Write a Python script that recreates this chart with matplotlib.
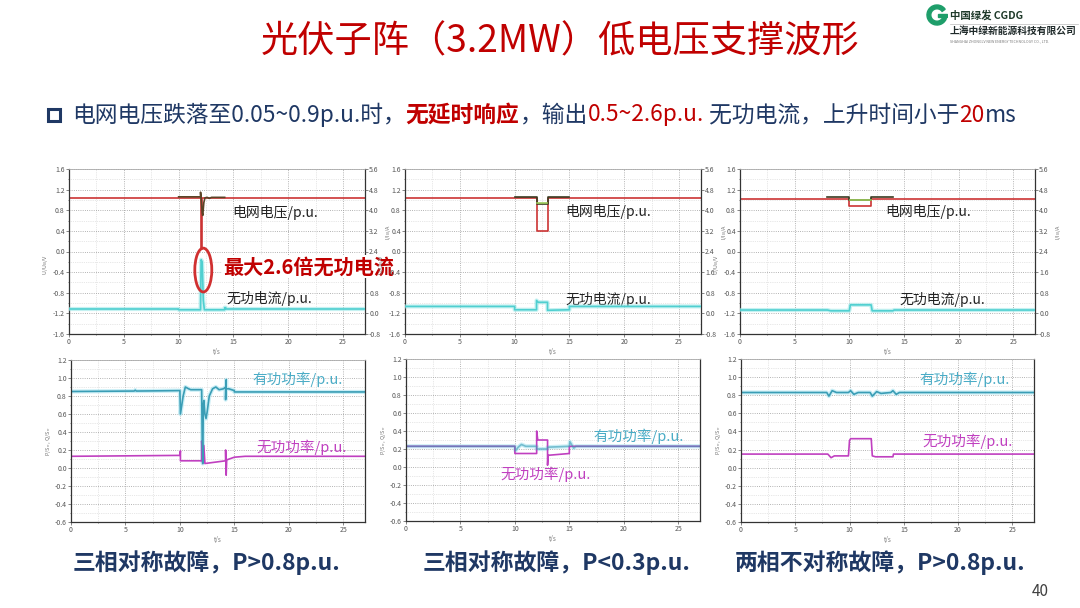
import matplotlib
matplotlib.use("Agg")
import matplotlib.pyplot as plt
from matplotlib.patches import Ellipse, Rectangle, Wedge
from matplotlib.ticker import MultipleLocator, FormatStrFormatter

plt.rcParams["font.family"] = ["Noto Sans CJK SC", "DejaVu Sans"]

W, H = 1080, 608

# ---- panel A: three-phase symmetric fault, P>0.8 ----
a_u_t = [0, 12.05, 12.05, 12.15, 12.15, 27]
a_u = [1.03, 1.03, 0.05, 0.05, 1.03, 1.03]
a_u2_t = [10.0, 12.0, 12.0, 12.1, 12.15, 12.2, 12.3, 12.4, 12.6, 12.8, 13.0, 14.2]
a_u2 = [1.06, 1.06, 1.15, 0.9, 0.75, 0.7, 0.95, 1.04, 1.05, 1.03, 1.05, 1.05]
a_i_t = [0, 10.0, 10.0, 12.0, 12.05, 12.15, 12.25, 12.35, 14.2, 14.2, 14.3, 14.3, 27]
a_i = [0.17, 0.17, 0.14, 0.14, 2.08, 2.0, 0.5, 0.14, 0.14, 0.22, 0.22, 0.17, 0.17]
a_p_t = [0, 5.8, 5.9, 6.0, 10.0, 10.05, 10.3, 10.5, 10.8, 11.0, 12.0, 12.05, 12.1,
         12.15, 12.2, 12.3, 12.4, 12.5, 12.7, 13.0, 13.3, 13.6, 14.0, 14.2, 14.2,
         14.25, 14.25, 14.5, 15.0, 15.0, 27]
a_p = [0.85, 0.855, 0.865, 0.855, 0.86, 0.60, 0.80, 0.90, 0.88, 0.87, 0.87, 0.30, 0.05,
       0.70, 0.75, 0.60, 0.55, 0.62, 0.80, 0.88, 0.90, 0.87, 0.88, 0.90, 0.76,
       0.98, 0.88, 0.88, 0.86, 0.845, 0.845]
a_q_t = [0, 10.0, 10.05, 10.05, 12.0, 12.0, 12.1, 12.2, 12.3, 14.2, 14.2, 14.25, 14.3,
         15.0, 16.0, 27]
a_q = [0.13, 0.14, 0.19, 0.08, 0.08, 0.30, 0.05, 0.25, 0.05, 0.08, 0.20, -0.08, 0.09,
       0.12, 0.13, 0.13]

# ---- panel B: three-phase symmetric fault, P<0.3 ----
b_u_t = [0, 12.0, 12.0, 13.0, 13.0, 27]
b_u = [1.03, 1.03, 0.40, 0.40, 1.03, 1.03]
b_u2_t = [10.0, 12.0, 12.0, 13.0, 13.0, 15.0]
b_u2 = [1.05, 1.05, 0.93, 0.93, 1.05, 1.05]
b_u3_t = [12.05, 12.95]
b_u3 = [0.94, 0.94]
b_i_t = [0, 10.0, 10.0, 12.0, 12.0, 12.15, 12.3, 13.0, 13.0, 15.0, 15.0, 27]
b_i = [0.27, 0.27, 0.14, 0.14, 0.50, 0.43, 0.43, 0.43, 0.12, 0.14, 0.27, 0.27]
b_p_t = [0, 10.0, 10.05, 10.3, 10.6, 11.0, 12.0, 12.0, 13.0, 13.0, 15.0, 15.05, 15.2,
         15.4, 15.6, 27]
b_p = [0.23, 0.23, 0.18, 0.22, 0.25, 0.23, 0.23, 0.20, 0.20, 0.22, 0.23, 0.28, 0.25,
       0.21, 0.23, 0.23]
b_q_t = [0, 10.0, 10.0, 12.0, 12.0, 12.1, 13.0, 13.0, 13.05, 15.0, 15.0, 27]
b_q = [0.23, 0.23, 0.15, 0.15, 0.40, 0.30, 0.30, 0.02, 0.13, 0.15, 0.23, 0.23]

# ---- panel C: two-phase asymmetric fault, P>0.8 ----
c_u_t = [0, 10.0, 10.0, 12.0, 12.0, 27]
c_u = [1.02, 1.02, 0.88, 0.88, 1.02, 1.02]
c_u2_t = [8.0, 10.0, 10.0, 12.0, 12.0, 14.0]
c_u2 = [1.05, 1.05, 0.99, 0.99, 1.05, 1.05]
c_u3_t = [10.05, 11.95]
c_u3 = [0.99, 0.99]
c_i_t = [0, 8.0, 8.3, 9.8, 10.0, 10.1, 12.0, 12.1, 12.5, 14.0, 14.1, 27]
c_i = [0.13, 0.13, 0.10, 0.10, 0.10, 0.33, 0.33, 0.10, 0.10, 0.10, 0.13, 0.13]
c_p_t = [0, 7.9, 8.1, 8.4, 8.8, 9.9, 10.1, 10.4, 10.8, 11.9, 12.1, 12.5, 12.9, 13.8,
         14.0, 14.3, 14.6, 15.0, 27]
c_p = [0.83, 0.83, 0.79, 0.85, 0.83, 0.83, 0.85, 0.81, 0.83, 0.83, 0.79, 0.84, 0.82,
       0.83, 0.85, 0.81, 0.83, 0.83, 0.83]
c_q_t = [0, 8.0, 8.3, 8.6, 9.9, 10.0, 10.1, 12.0, 12.1, 12.4, 14.0, 14.05, 27]
c_q = [0.15, 0.15, 0.11, 0.13, 0.13, 0.30, 0.32, 0.32, 0.13, 0.12, 0.12, 0.15, 0.15]

# peak marker on panel A (right-axis units)
peak_t = 12.25
peak_i = 1.68

captions = ["三相对称故障，P>0.8p.u.", "三相对称故障，P<0.3p.u.", "两相不对称故障，P>0.8p.u."]
caption_x = [206, 557, 880]

RED = "#C00000"
NAVY = "#1F3864"


def box(x0, y0, x1, y1):
    return [x0 / W, 1 - y1 / H, (x1 - x0) / W, (y1 - y0) / H]


def style_axes(ax, ymin, ymax, ystep, yminor):
    ax.set_xlim(0, 27)
    ax.set_ylim(ymin, ymax)
    ax.xaxis.set_major_locator(MultipleLocator(5))
    ax.xaxis.set_minor_locator(MultipleLocator(2.5))
    ax.yaxis.set_major_locator(MultipleLocator(ystep))
    ax.yaxis.set_minor_locator(MultipleLocator(yminor))
    ax.yaxis.set_major_formatter(FormatStrFormatter("%.1f"))
    ax.grid(which="major", ls=":", color="#9a9a9a", lw=0.6)
    ax.grid(which="minor", ls=":", color="#d0d0d0", lw=0.5)
    ax.tick_params(which="both", labelsize=5, colors="#555555", length=2, width=0.5, pad=1)
    ax.tick_params(which="minor", length=1)
    for side in ("left", "bottom", "right"):
        ax.spines[side].set_color("#333333")
        ax.spines[side].set_linewidth(0.9)
    ax.spines["top"].set_color("#aaaaaa")
    ax.spines["top"].set_linewidth(0.6)
    ax.set_xlabel("t/s", fontsize=4.5, color="#777777", labelpad=1)


def voltage_panel(rect, u_series, i_t, i_v, u_label_xy, i_label_xy):
    ax = fig.add_axes(box(*rect))
    style_axes(ax, -1.6, 1.6, 0.4, 0.2)
    ax.set_ylabel("U/U$_N$/V", fontsize=4, color="#777777")
    ax.yaxis.set_label_coords(-0.065, 0.42)
    for t, v, c in u_series:
        ax.plot(t, v, color=c, lw=1.2)
    ax2 = ax.twinx()
    ax2.set_ylim(-0.8, 5.6)
    ax2.yaxis.set_major_locator(MultipleLocator(0.8))
    ax2.yaxis.set_major_formatter(FormatStrFormatter("%.1f"))
    ax2.tick_params(labelsize=5, colors="#555555", length=2, width=0.5, pad=1)
    ax2.set_ylabel("I/I$_N$/A", fontsize=4, color="#777777")
    ax2.yaxis.set_label_coords(1.065, 0.62)
    for s in ax2.spines.values():
        s.set_visible(False)
    ax2.plot(i_t, i_v, color="#9EE8E8", lw=3, alpha=0.6)
    ax2.plot(i_t, i_v, color="#4FCFD0", lw=1.2)
    ax.text(*u_label_xy, "电网电压/p.u.", fontsize=10, color="#222222", va="center", zorder=5)
    ax.text(*i_label_xy, "无功电流/p.u.", fontsize=10, color="#222222", va="center", zorder=5)
    return ax, ax2


def power_panel(rect, p_t, p_v, q_t, q_v, p_xy, q_xy, p_alpha=1.0):
    ax = fig.add_axes(box(*rect))
    style_axes(ax, -0.6, 1.2, 0.2, 0.1)
    ax.set_ylabel("P/S$_n$ , Q/S$_n$", fontsize=4, color="#777777", labelpad=1)
    ax.plot(p_t, p_v, color="#A8E4F0", lw=3, alpha=0.6)
    ax.plot(q_t, q_v, color="#C040C0", lw=1.2)
    ax.plot(p_t, p_v, color="#3A9DB5", lw=1.2, alpha=p_alpha)
    ax.text(*p_xy, "有功功率/p.u.", fontsize=10.5, color="#4BACC6", va="center")
    ax.text(*q_xy, "无功功率/p.u.", fontsize=10.5, color="#C040C0", va="center")
    return ax


fig = plt.figure(figsize=(W / 100, H / 100), dpi=100)
fig.patch.set_facecolor("white")

# title and logo
fig.text(560 / W, 1 - 42 / H, "光伏子阵（3.2MW）低电压支撑波形", fontsize=26.8,
         color=RED, ha="center", va="center")

logo_ax = fig.add_axes(box(926, 4, 948, 26))
logo_ax.set_xlim(-1.1, 1.1)
logo_ax.set_ylim(-1.1, 1.1)
logo_ax.set_aspect("equal")
logo_ax.axis("off")
logo_ax.add_patch(Wedge((0, 0), 1.0, 35, 340, width=0.38, color="#1E9E6A"))
logo_ax.add_patch(Rectangle((0.05, -0.2), 0.9, 0.35, color="#1E9E6A"))
fig.text(950 / W, 1 - 15 / H, "中国绿发 CGDG", fontsize=7.5, fontweight="bold",
         color="#1f3a2a", va="center")
fig.add_artist(plt.Line2D([950 / W, 1078 / W], [1 - 24 / H, 1 - 24 / H],
                          color="#bbbbbb", lw=0.5))
fig.text(950 / W, 1 - 31 / H, "上海中绿新能源科技有限公司", fontsize=7, fontweight="bold",
         color="#1f2a2a", va="center")
fig.text(950 / W, 1 - 41 / H, "SHANGHAI ZHONGLV NEW ENERGY TECHNOLOGY CO., LTD.",
         fontsize=2.6, color="#777777", va="center")

# subtitle with coloured runs
fig.add_artist(Rectangle((48 / W, 1 - 121 / H), 12 / W, 12 / H, fill=False,
                         ec=NAVY, lw=2.2, transform=fig.transFigure))
parts = [
    ("电网电压跌落至0.05~0.9p.u.时，", NAVY, "normal"),
    ("无延时响应", RED, "bold"),
    ("，输出", NAVY, "normal"),
    ("0.5~2.6p.u.", RED, "normal"),
    (" 无功电流，上升时间小于", NAVY, "normal"),
    ("20", RED, "normal"),
    ("ms", NAVY, "normal"),
]
renderer = fig.canvas.get_renderer()
x = 72 / W
for txt, color, weight in parts:
    t = fig.text(x, 1 - 115 / H, txt, fontsize=16.4, color=color, fontweight=weight,
                 va="center", ha="left")
    x = t.get_window_extent(renderer=renderer).x1 / W

# top row: voltage / reactive current
ax_a, ax_a2 = voltage_panel((69, 169, 365, 334),
                            [(a_u_t, a_u, "#CC3333"), (a_u2_t, a_u2, "#5a4326")],
                            a_i_t, a_i, (14.87, 0.75), (14.4, -0.92))
ax_a2.add_patch(Ellipse((peak_t, peak_i), 1.55, 1.7, fill=False, ec="#D03030", lw=2, zorder=6))
ax_a2.text(14.05, 1.80, "最大2.6倍无功电流", fontsize=14.5, fontweight="bold",
           color=RED, va="center", clip_on=False, zorder=7,
           bbox=dict(boxstyle="square,pad=0.05", fc="white", ec="none"))

voltage_panel((405, 169, 701, 334),
              [(b_u_t, b_u, "#CC3333"), (b_u2_t, b_u2, "#3a3a20"), (b_u3_t, b_u3, "#9CCB5A")],
              b_i_t, b_i, (14.6, 0.77), (14.6, -0.93))

voltage_panel((740, 169, 1035, 334),
              [(c_u_t, c_u, "#CC3333"), (c_u2_t, c_u2, "#3a3a20"), (c_u3_t, c_u3, "#9CCB5A")],
              c_i_t, c_i, (13.3, 0.77), (14.55, -0.93))

# bottom row: active / reactive power
power_panel((71, 360, 365, 522), a_p_t, a_p, a_q_t, a_q, (16.7, 0.985), (17.0, 0.23))
power_panel((406, 359, 700, 521), b_p_t, b_p, b_q_t, b_q, (17.2, 0.345), (8.63, -0.078),
            p_alpha=0.6)
power_panel((741, 359, 1034, 522), c_p_t, c_p, c_q_t, c_q, (16.4, 0.975), (16.7, 0.287))

for cap, cx in zip(captions, caption_x):
    fig.text(cx / W, 1 - 563 / H, cap, fontsize=16.5, fontweight="bold", color=NAVY,
             ha="center", va="center")

fig.text(1040 / W, 1 - 591 / H, "40", fontsize=11, color="#404040", ha="center", va="center")

fig.savefig("out.png", dpi=100)
